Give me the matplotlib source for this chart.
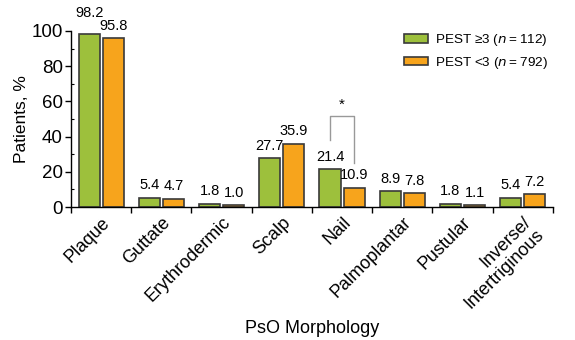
import matplotlib.pyplot as plt
import numpy as np
from matplotlib.ticker import MultipleLocator, FixedLocator

plt.rcParams['font.family'] = ['Liberation Sans', 'DejaVu Sans']

categories = ['Plaque', 'Guttate', 'Erythrodermic', 'Scalp', 'Nail',
              'Palmoplantar', 'Pustular', 'Inverse/\nIntertriginous']
pest_high = [98.2, 5.4, 1.8, 27.7, 21.4, 8.9, 1.8, 5.4]
pest_low = [95.8, 4.7, 1.0, 35.9, 10.9, 7.8, 1.1, 7.2]

green = '#9DC03C'
orange = '#F7A41C'
edge = '#3a3a3a'

fig = plt.figure(figsize=(5.75, 3.4), dpi=100)
ax = fig.add_axes([0.1235, 0.391, 0.838, 0.518])

x = np.arange(len(categories))
w = 0.35
b1 = ax.bar(x - 0.2, pest_high, w, color=green, edgecolor=edge, linewidth=1.2,
            label='PEST \u22653 ($n$\u2009=\u2009112)')
b2 = ax.bar(x + 0.2, pest_low, w, color=orange, edgecolor=edge, linewidth=1.2,
            label='PEST <3 ($n$\u2009=\u2009792)')

for bars, vals in [(b1, pest_high), (b2, pest_low)]:
    for r, v in zip(bars, vals):
        # first label raised so it does not collide with its neighbour
        dy = 10 if v == pest_high[0] else 4
        ax.annotate(f'{v:.1f}', (r.get_x() + r.get_width() / 2, v),
                    xytext=(0, dy), textcoords='offset points',
                    ha='center', va='bottom', fontsize=10.5, annotation_clip=False)

# significance bracket for Nail
i = categories.index('Nail')
ax.plot([i - 0.2, i - 0.2, i + 0.2, i + 0.2], [38, 51.5, 51.5, 25],
        color='#999999', linewidth=1, clip_on=False)
ax.text(i, 54, '*', ha='center', va='bottom', fontsize=11)

ax.set_xlim(-0.5, len(categories) - 0.5)
ax.set_ylim(0, 100)
ax.spines['top'].set_visible(False)
ax.spines['right'].set_visible(False)
ax.spines['left'].set_linewidth(1)
ax.spines['bottom'].set_linewidth(1)

ax.yaxis.set_major_locator(MultipleLocator(20))
ax.yaxis.set_minor_locator(MultipleLocator(10))
ax.tick_params(axis='y', which='major', labelsize=13.5, length=4, width=1, pad=2)
ax.tick_params(axis='y', which='minor', length=2.5, width=0.8, direction='in')

ax.set_xticks(x)
ax.set_xticklabels(categories, rotation=45, ha='right', rotation_mode='anchor',
                   fontsize=13, linespacing=1.0)
ax.xaxis.set_minor_locator(FixedLocator(np.arange(-0.5, len(categories), 1)))
ax.tick_params(axis='x', which='major', length=0, pad=5)
ax.tick_params(axis='x', which='minor', length=4, width=1)

ax.set_ylabel('Patients, %', fontsize=12.5, labelpad=2)
ax.set_xlabel('PsO Morphology', fontsize=13)
ax.xaxis.set_label_coords(0.5, -0.64)

ax.legend(loc='upper left', bbox_to_anchor=(0.665, 1.06), frameon=False,
          fontsize=9.7, handlelength=1.8, handleheight=0.6, labelspacing=0.45,
          handletextpad=0.5)

fig.savefig('out.png', dpi=100)
